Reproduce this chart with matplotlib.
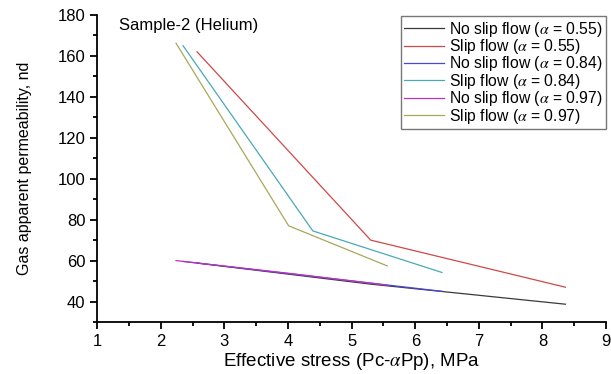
import numpy as np
import matplotlib
matplotlib.use("Agg")
import matplotlib.pyplot as plt
from matplotlib.ticker import MultipleLocator

plt.rcParams['font.family'] = ['Liberation Sans', 'DejaVu Sans']
plt.rcParams['mathtext.fontset'] = 'stix'

# no slip flow
ns055_x = [2.57, 5.30, 8.36]
ns055_y = [58.8, 48.5, 38.7]
ns084_x = [2.35, 4.39, 6.42]
ns084_y = [59.6, 52.3, 45.0]
ns097_x = [2.24, 4.01, 5.56]
ns097_y = [60.0, 53.8, 48.0]

# slip flow
s055_x = [2.57, 5.30, 8.36]
s055_y = [162.0, 70.0, 47.0]
s084_x = [2.35, 4.39, 6.42]
s084_y = [165.0, 74.5, 54.2]
s097_x = [2.24, 4.01, 5.56]
s097_y = [166.2, 77.0, 57.4]

fig = plt.figure(figsize=(6.11, 3.74), dpi=100)
ax = fig.add_axes([0.159, 0.139, 0.833, 0.821])

lw = 0.9
ax.plot(ns055_x, ns055_y, color='#3a3a3a', lw=lw, label=r'No slip flow ($\alpha$ = 0.55)')
ax.plot(s055_x, s055_y, color='#d04848', lw=lw, label=r'Slip flow ($\alpha$ = 0.55)')
ax.plot(ns084_x, ns084_y, color='#4848d8', lw=lw, label=r'No slip flow ($\alpha$ = 0.84)')
ax.plot(s084_x, s084_y, color='#4aa8b8', lw=lw, label=r'Slip flow ($\alpha$ = 0.84)')
ax.plot(ns097_x, ns097_y, color='#c030c0', lw=lw, label=r'No slip flow ($\alpha$ = 0.97)')
ax.plot(s097_x, s097_y, color='#a8a85a', lw=lw, label=r'Slip flow ($\alpha$ = 0.97)')

ax.set_xlim(1, 9)
ax.set_ylim(30, 180)
ax.xaxis.set_major_locator(MultipleLocator(1))
ax.xaxis.set_minor_locator(MultipleLocator(0.5))
ax.yaxis.set_minor_locator(MultipleLocator(10))
ax.set_yticks(np.arange(40, 181, 20))
ax.spines['top'].set_visible(False)
ax.spines['right'].set_visible(False)
ax.spines['left'].set_linewidth(1.3)
ax.spines['bottom'].set_linewidth(1.3)
ax.tick_params(which='major', direction='out', length=5, width=1.3, labelsize=12)
ax.tick_params(which='minor', direction='out', length=3, width=1.3)

ax.set_xlabel(r'Effective stress (Pc-$\alpha$Pp), MPa', fontsize=13.5)
ax.xaxis.set_label_coords(0.5, -0.095)
ax.set_ylabel('Gas apparent permeability, nd', fontsize=11.5)
ax.yaxis.set_label_coords(-0.128, 0.5)
ax.text(1.35, 175, 'Sample-2 (Helium)', fontsize=12, va='center')

leg = ax.legend(loc='upper right', bbox_to_anchor=(1.0, 0.995), fontsize=11.3,
                frameon=True, fancybox=False, edgecolor='#555555',
                labelspacing=-0.1, handlelength=2.6, handletextpad=0.3,
                borderpad=0.2, borderaxespad=0.0)
leg.get_frame().set_linewidth(1.0)

fig.savefig('out.png', dpi=100)
